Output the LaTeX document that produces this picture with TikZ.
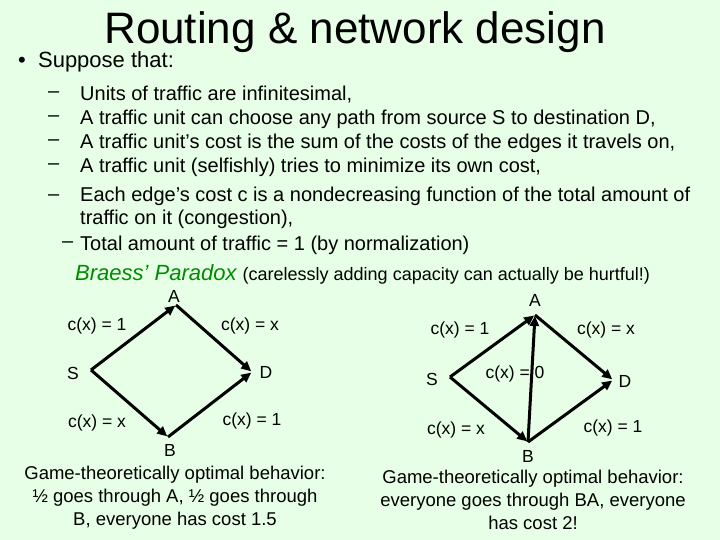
\documentclass[tikz,border=0pt]{standalone}
\usepackage{fontspec}
\setmainfont{Liberation Sans}
\usetikzlibrary{arrows.meta}
\definecolor{bg}{RGB}{230,255,230}
\definecolor{grn}{RGB}{0,140,0}
\begin{document}
\begin{tikzpicture}[x=1pt,y=-1pt,
  lab/.style={font=\fontsize{17.5}{20}\selectfont,inner sep=0pt},
  item/.style={font=\fontsize{20}{23}\selectfont,anchor=west,inner sep=0pt},
  edge/.style={line width=3pt,-{Triangle[length=10pt,width=9pt]},shorten >=1pt},
  captxt/.style={font=\fontsize{18.5}{23}\selectfont,align=center,inner sep=0pt}]
\fill[bg] (0,0) rectangle (720,540);
\useasboundingbox (0,0) rectangle (720,540);
\node[font=\fontsize{44}{48}\selectfont,inner sep=0pt] (title) at (355,32) {Routing \& network design};
\node[font=\fontsize{22}{26}\selectfont,anchor=west,inner sep=0pt] (sup) at (18,62) {•\ \ Suppose that:};
\node[item] (d1) at (48,95) {–};\node[item] (t1) at (80,95) {Units of traffic are infinitesimal,};
\node[item] (d2) at (48,119) {–};\node[item] (t2) at (80,119) {A traffic unit can choose any path from source S to destination D,};
\node[item] (d3) at (48,143) {–};\node[item] (t3) at (80,143) {A traffic unit’s cost is the sum of the costs of the edges it travels on,};
\node[item] (d4) at (48,167) {–};\node[item] (t4) at (80,167) {A traffic unit (selfishly) tries to minimize its own cost,};
\node[item] (d5) at (48,198) {–};\node[item,align=left,anchor=north west] (t5) at (80,187) {Each edge’s cost c is a nondecreasing function of the total amount of\\traffic on it (congestion),};
\node[item] (d6) at (62,245) {–};\node[item] (t6) at (80,245) {Total amount of traffic = 1 (by normalization)};
\node[anchor=west,inner sep=0pt] (br) at (75,274) {\fontsize{22}{26}\selectfont\color{grn}\itshape Braess’ Paradox\ \color{black}\upshape\fontsize{18}{20}\selectfont(carelessly adding capacity can actually be hurtful!)};
% left
\coordinate (S1) at (91,370); \coordinate (A1) at (176,305); \coordinate (D1) at (252,372); \coordinate (B1) at (168,437);
\draw[edge] (S1) -- (A1); \draw[edge] (A1) -- (D1); \draw[edge] (S1) -- (B1); \draw[edge] (B1) -- (D1);
\node[lab] (lA1) at (174,296) {A};
\node[lab] (lS1) at (73,373) {S};
\node[lab] (lD1) at (266,372) {D};
\node[lab] (lB1) at (170,450) {B};
\node[lab] (e11) at (97,326) {c(x) = 1};
\node[lab] (e12) at (250,326) {c(x) = x};
\node[lab] (e13) at (97,423) {c(x) = x};
\node[lab] (e14) at (252,421) {c(x) = 1};
\node[captxt] (c1) at (175,498) {Game-theoretically optimal behavior:\\½ goes through A, ½ goes through\\B, everyone has cost 1.5};
% right
\coordinate (S2) at (450,377); \coordinate (A2) at (535,315); \coordinate (D2) at (613,380); \coordinate (B2) at (528,442);
\draw[edge] (S2) -- (A2); \draw[edge] (A2) -- (D2); \draw[edge] (S2) -- (B2); \draw[edge] (B2) -- (D2); \draw[edge] (B2) -- (A2);
\node[lab] (lA2) at (535,300) {A};
\node[lab] (lS2) at (432,379) {S};
\node[lab] (lD2) at (625,381) {D};
\node[lab] (lB2) at (528,456) {B};
\node[lab] (e21) at (460,330) {c(x) = 1};
\node[lab] (e22) at (606,330) {c(x) = x};
\node[lab] (e23) at (515,374) {c(x) = 0};
\node[lab] (e24) at (456,430) {c(x) = x};
\node[lab] (e25) at (613,428) {c(x) = 1};
\node[captxt] (c2) at (533,500) {Game-theoretically optimal behavior:\\everyone goes through BA, everyone\\has cost 2!};
\end{tikzpicture}
\end{document}
